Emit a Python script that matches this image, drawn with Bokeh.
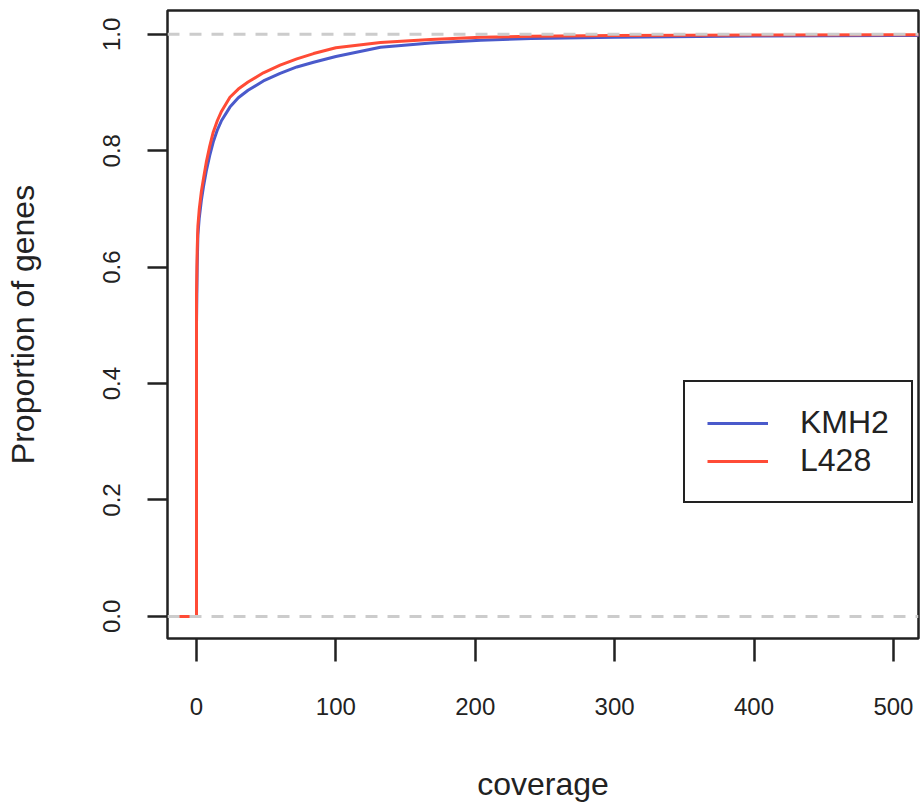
from bokeh.plotting import figure
from bokeh.models import Range1d, FixedTicker, Span, Legend, LegendItem, NumeralTickFormatter
from bokeh.embed import file_html
from bokeh.resources import INLINE

# ---- data ----
coverage = [-13, 0, 0, 0.5, 1, 2, 3.5, 5, 7, 9.5, 12, 15, 18, 24, 30, 37, 48, 60, 72, 84,
            100, 132, 168, 204, 240, 300, 400, 500, 600]
kmh2 = [0, 0, 0.50, 0.60, 0.655, 0.685, 0.715, 0.738, 0.765, 0.792, 0.815, 0.836, 0.852, 0.875,
        0.891, 0.904, 0.920, 0.933, 0.944, 0.952, 0.962, 0.978, 0.985, 0.990, 0.993, 0.995,
        0.997, 0.998, 0.999]
l428 = [0, 0, 0.55, 0.63, 0.67, 0.70, 0.73, 0.752, 0.78, 0.808, 0.832, 0.852, 0.868, 0.892,
        0.906, 0.918, 0.934, 0.947, 0.958, 0.967, 0.977, 0.986, 0.991, 0.995, 0.9966, 0.998,
        0.999, 0.9993, 1.0]
series_names = ["KMH2", "L428"]
x_ticks = [0, 100, 200, 300, 400, 500]
y_ticks = [0.0, 0.2, 0.4, 0.6, 0.8, 1.0]

FONT = "Liberation Sans"
BLUE = "#4a5acb"
RED = "#ff4b36"

p = figure(width=920, height=805, output_backend="svg", toolbar_location=None,
           x_range=Range1d(-20.8, 518), y_range=Range1d(-0.038, 1.041),
           min_border_left=167, min_border_top=10, min_border_right=2, min_border_bottom=167)
p.background_fill_color = "white"
p.border_fill_color = "white"
p.outline_line_color = "#222222"
p.outline_line_width = 2.5
p.xgrid.visible = False
p.ygrid.visible = False

r_blue = p.line(coverage, kmh2, line_color=BLUE, line_width=3)
r_red = p.line(coverage, l428, line_color=RED, line_width=3)

for loc in (0.0, 1.0):
    p.add_layout(Span(location=loc, dimension="width", line_color="#cccccc",
                      line_width=3, line_dash="12 10"))

for ax in (p.xaxis[0], p.yaxis[0]):
    ax.axis_line_color = None
    ax.major_tick_line_color = "#222222"
    ax.major_tick_line_width = 2.5
    ax.major_tick_in = 0
    ax.minor_tick_line_color = None
    ax.major_label_text_font = FONT
    ax.major_label_text_font_size = "24px"
    ax.major_label_text_color = "#222222"
    ax.axis_label_text_font = FONT
    ax.axis_label_text_font_size = "32px"
    ax.axis_label_text_font_style = "normal"
    ax.axis_label_text_color = "#222222"

p.xaxis.ticker = FixedTicker(ticks=x_ticks)
p.xaxis.major_tick_out = 23
p.xaxis.major_label_standoff = 36
p.xaxis.axis_label = "coverage"
p.xaxis.axis_label_standoff = 48

p.yaxis.ticker = FixedTicker(ticks=y_ticks)
p.yaxis.formatter = NumeralTickFormatter(format="0.0")
p.yaxis.major_tick_out = 20
p.yaxis.major_label_standoff = 27
p.yaxis.major_label_orientation = "vertical"
p.yaxis.axis_label = "Proportion of genes"
p.yaxis.axis_label_standoff = 60

legend = Legend(items=[LegendItem(label=series_names[0], renderers=[r_blue]),
                       LegendItem(label=series_names[1], renderers=[r_red])],
                location=(516, 135))
legend.border_line_color = "#222222"
legend.border_line_alpha = 1.0
legend.border_line_width = 2
legend.background_fill_alpha = 1
legend.padding = 22
legend.spacing = 1
legend.glyph_width = 61
legend.glyph_height = 30
legend.label_height = 30
legend.label_standoff = 32
legend.label_text_font = FONT
legend.label_text_font_size = "32px"
legend.label_text_color = "#222222"
legend.margin = 0
p.add_layout(legend, "center")

open("out.html", "w").write(file_html(p, INLINE))
